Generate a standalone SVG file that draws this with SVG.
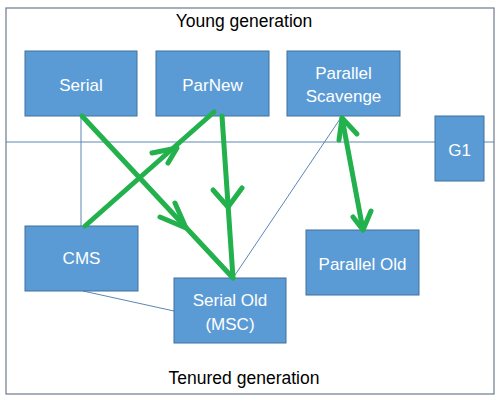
<svg xmlns="http://www.w3.org/2000/svg" width="504" height="401" viewBox="0 0 504 401">
<style>
.frame{fill:none;stroke:#6B7A8C;stroke-width:1.2}
.thin{fill:none;stroke:#5B87B4;stroke-width:1}
.box{fill:#5B9BD5;stroke:#41719C;stroke-width:1}
.lbl{fill:#FFFFFF;font-family:"Liberation Sans",Arial,sans-serif;font-size:17px;text-anchor:middle}
.title{fill:#000000;font-family:"Liberation Sans",Arial,sans-serif;font-size:17.5px;text-anchor:middle}
.green{fill:none;stroke:#22B14C;stroke-width:5;stroke-linecap:round;stroke-linejoin:round}
</style>
<rect width="504" height="401" fill="#FFFFFF"/>
<rect class="frame" x="6" y="8" width="488" height="386"/>
<text class="title" x="244" y="27">Young generation</text>
<text class="title" x="244" y="384">Tenured generation</text>
<g id="connectors">
<line class="thin" x1="6" y1="142" x2="494" y2="142"/>
<line class="thin" x1="81" y1="116" x2="81" y2="226"/>
<line class="thin" x1="83" y1="291" x2="174" y2="311"/>
<line class="thin" x1="342" y1="116" x2="233" y2="278"/>
</g>
<g id="serial"><rect class="box" x="25" y="51" width="112" height="65"/><text class="lbl" x="81" y="91">Serial</text></g>
<g id="parnew"><rect class="box" x="156" y="51" width="113" height="65"/><text class="lbl" x="212.5" y="91">ParNew</text></g>
<g id="parallel-scavenge"><rect class="box" x="287" y="51" width="113" height="65"/><text class="lbl" x="343.5" y="79">Parallel</text><text class="lbl" x="343.5" y="102">Scavenge</text></g>
<g id="g1"><rect class="box" x="435" y="116" width="49" height="65"/><text class="lbl" x="459.5" y="156">G1</text></g>
<g id="cms"><rect class="box" x="25" y="226" width="113" height="65"/><text class="lbl" x="81.5" y="264">CMS</text></g>
<g id="serial-old"><rect class="box" x="174" y="278" width="112" height="65"/><text class="lbl" x="230" y="306">Serial Old</text><text class="lbl" x="230" y="330">(MSC)</text></g>
<g id="parallel-old"><rect class="box" x="306" y="230" width="113" height="65"/><text class="lbl" x="362.5" y="270">Parallel Old</text></g>
<g id="green-arrows">
<line class="green" x1="82" y1="116" x2="233" y2="278"/>
<polyline class="green" points="160,217 186,228 175,203"/>
<line class="green" x1="85" y1="226" x2="214" y2="112"/>
<polyline class="green" points="152,153 177,148 168,163"/>
<line class="green" x1="222" y1="116" x2="233" y2="278"/>
<polyline class="green" points="213,190 228,207 242,188"/>
<line class="green" x1="342" y1="118" x2="363" y2="230"/>
<polyline class="green" points="339,140 342,118 357,134"/>
<polyline class="green" points="353,217 363,230 371,211"/>
</g>
</svg>
